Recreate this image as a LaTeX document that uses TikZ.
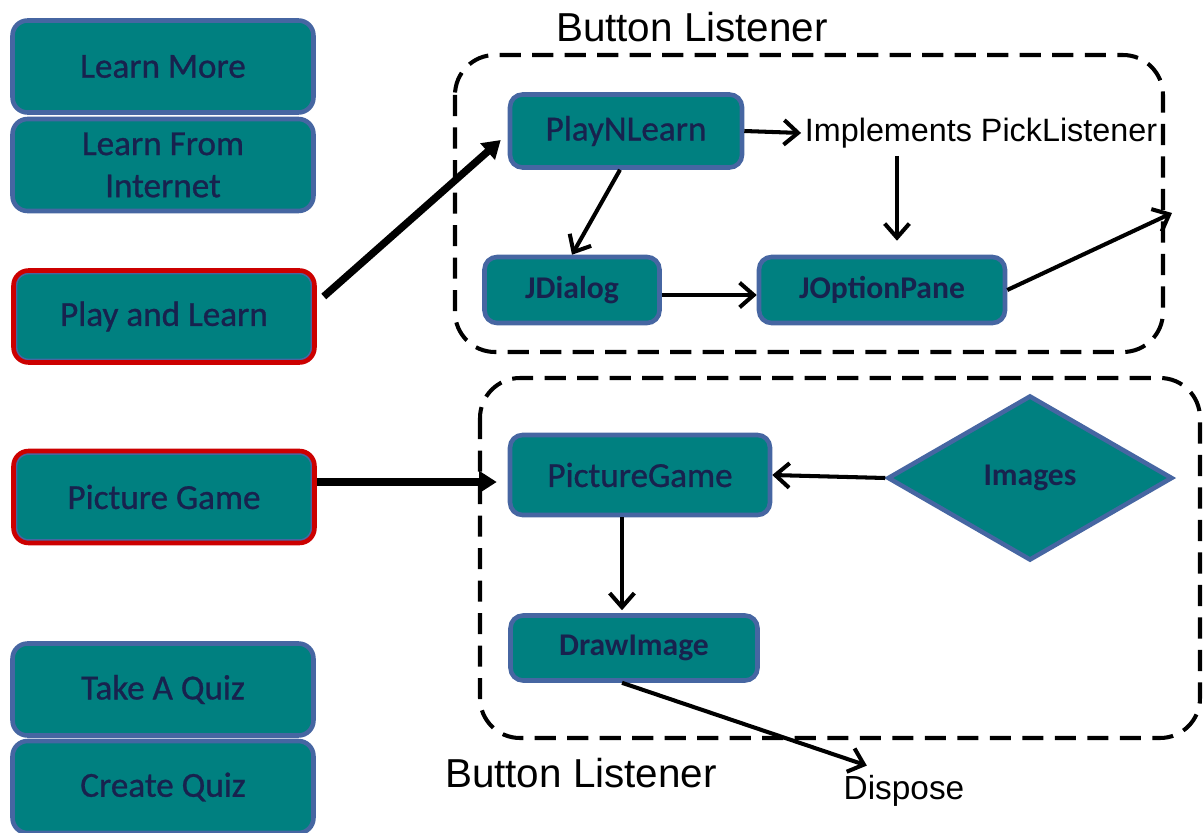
\documentclass[tikz,border=0pt]{standalone}
\usepackage{fontspec}
\setmainfont{Liberation Sans}
\newfontfamily\boxfont[UprightFeatures={FakeBold=0.8}]{Carlito}
\usetikzlibrary{shapes.geometric,arrows.meta}

\definecolor{boxteal}{RGB}{0,128,128}
\definecolor{boxblue}{RGB}{70,102,162}
\definecolor{boxred}{RGB}{204,0,0}
\definecolor{glyphdark}{RGB}{24,34,78}

\begin{document}
\begin{tikzpicture}[x=0.02cm, y=-0.02cm,
    menubox/.style={rectangle, rounded corners=0.3cm, fill=boxteal, draw=boxblue,
        line width=2.6pt, minimum width=6.02cm, minimum height=1.84cm, align=center,
        inner sep=2pt, text=glyphdark, font=\boxfont\fontsize{20}{24}\selectfont},
    redbox/.style={menubox, draw=boxred, path picture={
        \draw[boxblue, line width=4.4pt, rounded corners=0.3cm]
            (path picture bounding box.south west) rectangle (path picture bounding box.north east);}},
    flowbox/.style={rectangle, rounded corners=0.25cm, fill=boxteal, draw=boxblue,
        line width=2.6pt, inner sep=2pt, text=glyphdark, font=\boxfont\fontsize{20}{24}\selectfont},
    smallbox/.style={flowbox, font=\boxfont\bfseries\fontsize{18}{22}\selectfont},
    imgdiamond/.style={diamond, fill=boxteal, draw=boxblue, line width=2.6pt, aspect=1.7,
        minimum width=5.7cm, minimum height=3.3cm, inner sep=0pt, text=glyphdark,
        font=\boxfont\bfseries\fontsize{18}{22}\selectfont},
    listener/.style={line width=2.3pt, dash pattern=on 12pt off 6.5pt, rounded corners=0.8cm},
    title/.style={inner sep=2pt, font=\fontsize{23}{28}\selectfont},
    note/.style={inner sep=2pt, font=\fontsize{18.4}{22}\selectfont},
    arrow/.style={line width=2.3pt, -{Straight Barb[length=8pt,width=14pt]}},
    bigarrow/.style={line width=4.2pt, -{Triangle[length=10pt,width=12pt]}}]
    \useasboundingbox (0,0) rectangle (1204,832);

    % button listener regions
    \draw[listener] (455,55) rectangle (1163,352);
    \draw[listener] (480,378) rectangle (1200,738);
    \node[title] (bl1) at (692,27) {Button Listener};
    \node[title] (bl2) at (581,773) {Button Listener};

    % menu
    \node[menubox] (more) at (163,66.5) {Learn More};
    \node[menubox] (inet) at (163,165) {Learn From\\Internet};
    \node[redbox] (play) at (164,316.5) {Play and Learn};
    \node[redbox] (pic) at (164,497) {Picture Game};
    \node[menubox] (quiz) at (163,689.5) {Take A Quiz};
    \node[menubox] (create) at (163,787) {Create Quiz};

    % play and learn
    \node[flowbox, minimum width=4.64cm, minimum height=1.46cm] (pnl) at (626,131) {PlayNLearn};
    \node[note] (pick) at (981,133) {Implements PickListener};
    \node[smallbox, minimum width=3.5cm, minimum height=1.32cm] (jdlg) at (572,290) {JDialog};
    \node[smallbox, minimum width=4.92cm, minimum height=1.32cm] (jopt) at (882,290) {JOptionPane};
    \coordinate (exit) at (1172,213);

    % picture game
    \node[flowbox, minimum width=5.2cm, minimum height=1.6cm] (pgame) at (640,475) {PictureGame};
    \node[imgdiamond] (imgs) at (1030,478) {Images};
    \node[smallbox, minimum width=4.94cm, minimum height=1.3cm] (drawimg) at (634,648) {DrawImage};
    \node[note, font=\fontsize{19}{23}\selectfont] (disp) at (904,791) {Dispose};

    \draw[bigarrow] ([shift={(7,-20)}]play.east) -- ([shift={(-7,9)}]pnl.west);
    \draw[bigarrow] ([shift={(0,-15)}]pic.east) -- ([shift={(-11,7)}]pgame.west);
    \draw[arrow] (pnl.east) -- (pick.west);
    \draw[arrow] ([shift={(-84,4)}]pick.south) -- ([shift={(15,-14)}]jopt.north);
    \draw[arrow] ([shift={(-6,0)}]pnl.south) -- (jdlg.north);
    \draw[arrow] ([shift={(0,5)}]jdlg.east) -- ([shift={(0,5)}]jopt.west);
    \draw[arrow] (jopt.east) -- (exit);
    \draw[arrow] (imgs.west) -- (pgame.east);
    \draw[arrow] ([shift={(-18,0)}]pgame.south) -- ([shift={(-12,-3)}]drawimg.north);
    \draw[arrow] ([shift={(-12,0)}]drawimg.south) -- ([shift={(27,-6)}]disp.north west);
\end{tikzpicture}
\end{document}
